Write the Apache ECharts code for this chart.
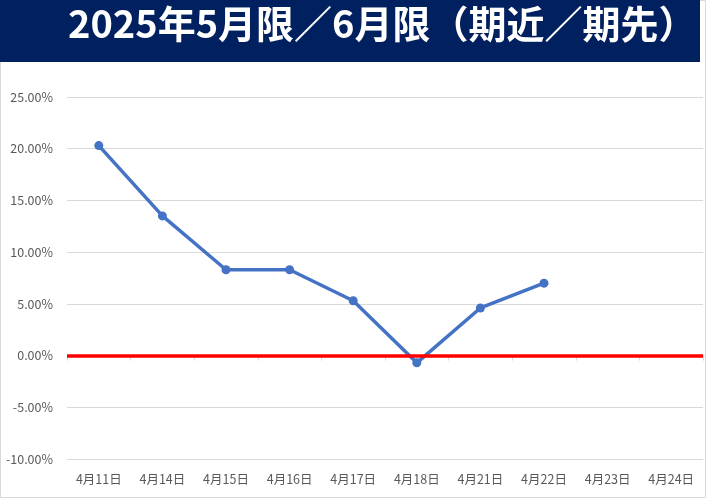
<!DOCTYPE html>
<html><head><meta charset="utf-8">
<script src="https://cdn.jsdelivr.net/npm/echarts@6/dist/echarts.min.js"></script>
<style>html,body{margin:0;padding:0;background:#fff}#c{width:707px;height:499px}</style>
</head><body><div id="c"></div>
<script>
const titleText = '2025年5月限／6月限（期近／期先）';
const categories = ['4月11日','4月14日','4月15日','4月16日','4月17日','4月18日','4月21日','4月22日','4月23日','4月24日'];
const spreadValues = [20.3, 13.5, 8.3, 8.3, 5.3, -0.7, 4.6, 7.0, null, null];
const yTicks = {min: -10, max: 25, interval: 5};

const chart = echarts.init(document.getElementById('c'));
chart.setOption({
  animation: false,
  backgroundColor: '#fff',
  graphic: [
    {type: 'rect', shape: {x: 0.5, y: 0.5, width: 705, height: 497}, style: {fill: 'none', stroke: '#d9d9d9', lineWidth: 1}, z: 0},
    {type: 'rect', shape: {x: 0, y: 0, width: 700, height: 62}, style: {fill: '#002060'}, z: 1},
    {type: 'text', left: 68, top: 5, style: {text: titleText, fill: '#fff', font: 'bold 38px "Noto Sans CJK JP"'}, z: 2}
  ],
  grid: {left: 67, right: 4, top: 97, bottom: 40},
  xAxis: {
    type: 'category', data: categories, boundaryGap: true,
    axisLine: {show: true, onZero: true, lineStyle: {color: '#d9d9d9'}},
    axisTick: {show: true, length: 5, lineStyle: {color: '#d9d9d9'}},
    axisLabel: {color: '#595959', fontSize: 12.5, fontFamily: 'Noto Sans CJK JP', margin: 14},
    position: 'bottom'
  },
  yAxis: {
    type: 'value', min: yTicks.min, max: yTicks.max, interval: yTicks.interval,
    axisLabel: {color: '#595959', fontSize: 12.5, fontFamily: 'Noto Sans CJK JP', margin: 14,
      formatter: v => v.toFixed(2) + '%'},
    splitLine: {lineStyle: {color: '#d9d9d9'}},
    axisLine: {show: false}, axisTick: {show: false}
  },
  series: [{
    type: 'line', data: spreadValues, connectNulls: false,
    symbol: 'circle', symbolSize: 9,
    lineStyle: {color: '#4472c4', width: 3.5},
    itemStyle: {color: '#4472c4'},
    z: 3,
    markLine: {
      silent: true, symbol: 'none', label: {show: false},
      lineStyle: {color: '#ff0000', width: 3.5, type: 'solid'},
      data: [{yAxis: 0}]
    }
  }]
});
</script></body></html>
